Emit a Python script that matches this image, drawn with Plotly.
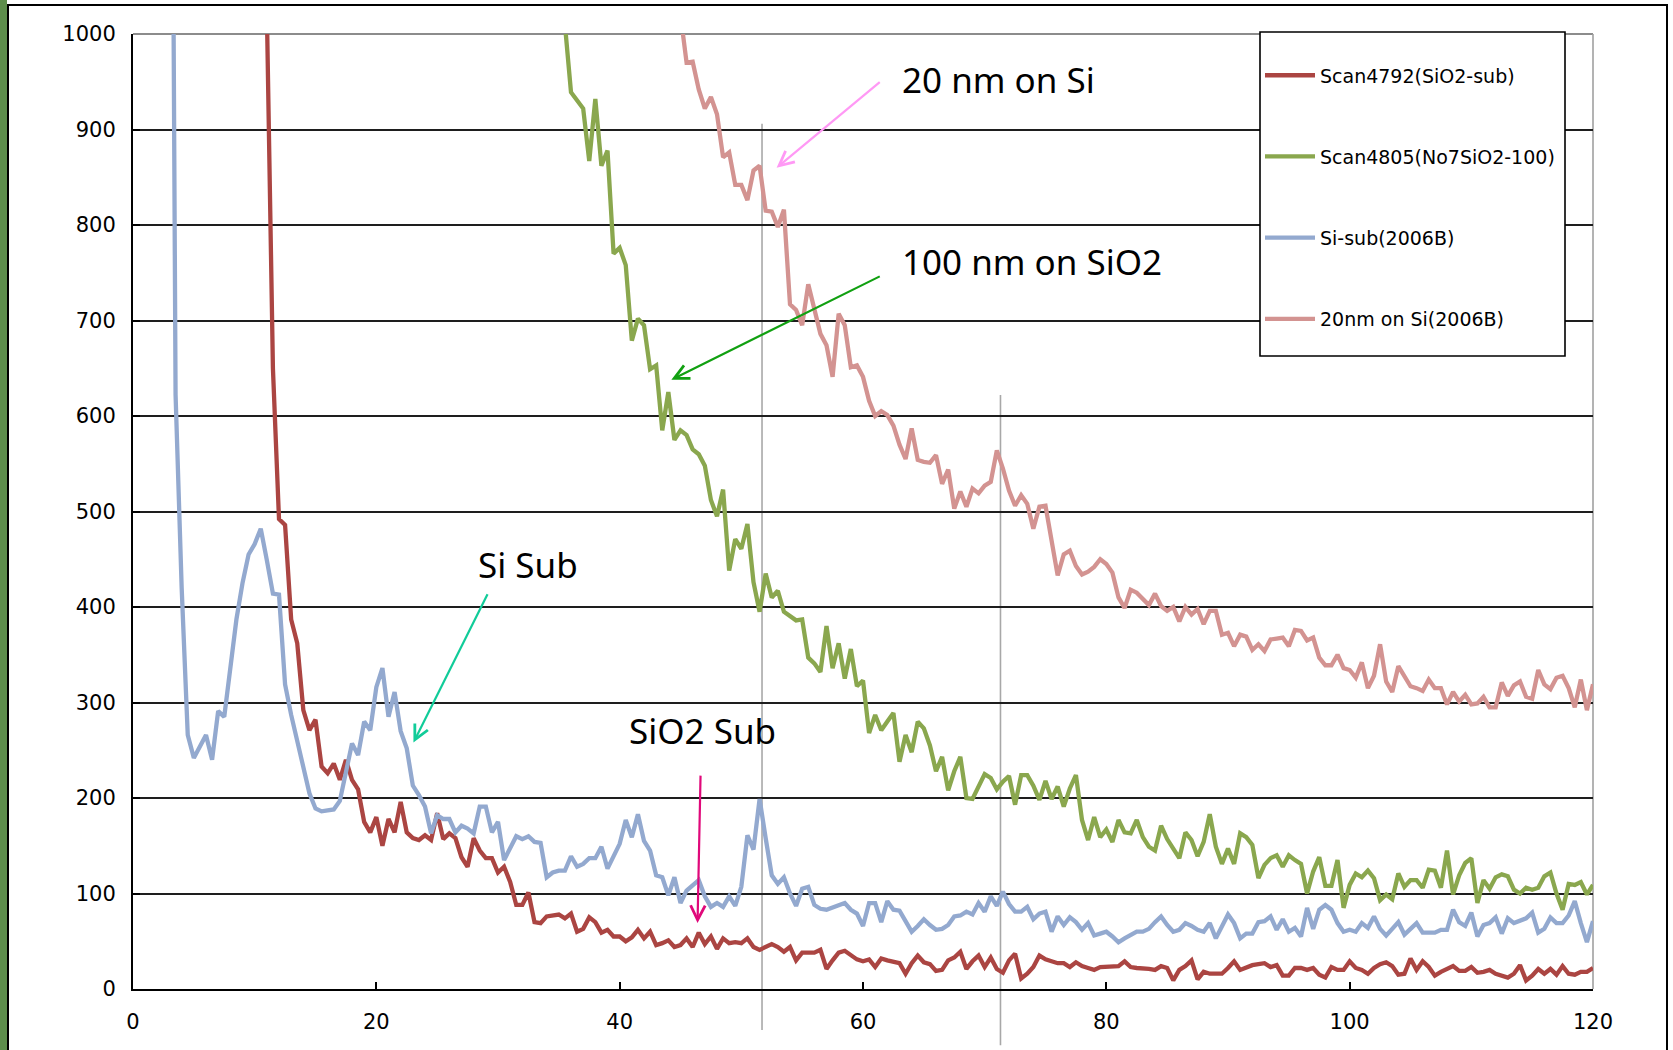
import numpy as np
import plotly.graph_objects as go

STEP = 0.5  # scan step along x

# Scan4792(SiO2-sub) -- first point at x = 10.5
red_start = 10.5
red_y = [
    1400, 1030, 650, 492, 486, 387, 362, 292, 271, 282, 233, 226, 236, 219, 240, 219, 209, 175, 164, 180,
    150, 178, 164, 196, 164, 158, 156, 161, 156, 184, 157, 163, 158, 138, 128, 158, 145, 137, 137, 122,
    128, 112, 88, 88, 101, 70, 69, 76, 77, 78, 74, 79, 60, 63, 75, 70, 59, 62, 55, 55,
    50, 54, 62, 53, 60, 46, 48, 51, 44, 46, 53, 44, 59, 47, 55, 42, 53, 48, 49, 48,
    53, 44, 41, 44, 47, 44, 39, 44, 30, 38, 38, 38, 41, 21, 30, 38, 40, 35, 31, 29,
    31, 23, 32, 30, 28, 27, 16, 27, 35, 28, 26, 19, 20, 30, 33, 39, 21, 29, 35, 23,
    33, 21, 17, 30, 37, 11, 16, 23, 35, 31, 29, 27, 27, 23, 28, 24, 22, 20, 23, 23,
    23, 24, 29, 23, 22, 22, 21, 20, 24, 22, 9, 20, 24, 30, 10, 18, 16, 16, 16, 22,
    29, 20, 23, 25, 26, 27, 23, 25, 14, 14, 22, 22, 20, 22, 15, 12, 23, 20, 20, 29,
    22, 20, 16, 22, 26, 28, 24, 15, 16, 32, 20, 29, 23, 14, 18, 21, 24, 19, 19, 23,
    17, 18, 20, 16, 14, 12, 16, 25, 9, 14, 21, 16, 21, 15, 24, 16, 15, 18, 18, 22,
]

# Scan4805(No7SiO2-100) -- first point at x = 35.0
green_start = 35.0
green_y = [
    1200, 1010, 939, 930, 922, 867, 932, 862, 878, 770, 776,
    758, 679, 702, 695, 649, 653, 585, 625, 575, 585, 580, 565, 560, 548, 512, 495, 523, 438, 471, 461,
    487, 426, 395, 435, 410, 417, 395, 390, 386, 387, 347, 341, 332, 380, 336, 362, 325, 356, 317, 323,
    268, 287, 271, 280, 289, 238, 266, 248, 280, 273, 255, 228, 243, 208, 228, 243, 200, 199, 211, 225,
    221, 209, 217, 223, 193, 224, 224, 213, 198, 218, 199, 212, 191, 210, 224, 177, 156, 180, 159, 167,
    154, 177, 164, 163, 177, 159, 149, 145, 171, 157, 147, 137, 164, 156, 139, 154, 183, 149, 131, 147,
    131, 163, 159, 151, 116, 130, 137, 140, 128, 140, 135, 131, 100, 123, 138, 108, 108, 135, 85, 109,
    121, 117, 124, 116, 93, 99, 94, 121, 107, 114, 114, 106, 125, 124, 106, 145, 99, 119, 132, 137,
    90, 114, 105, 117, 120, 118, 104, 100, 106, 104, 106, 118, 122, 100, 83, 110, 109, 112, 99, 109,
]

# Si-sub(2006B) -- first point at x = 3.0
blue_start = 3.0
blue_y = [
    1800, 622, 420, 266, 242, 255, 266, 240, 291, 285, 338, 387, 425, 455, 466,
    482, 449, 414, 413, 319, 287, 259, 231, 205, 189, 186, 187, 188, 197, 225, 257, 245, 280, 271, 316,
    336, 285, 311, 270, 252, 213, 203, 191, 163, 182, 178, 178, 164, 171, 168, 163, 191, 191, 164, 175,
    135, 148, 160, 157, 160, 154, 153, 117, 122, 124, 124, 139, 128, 131, 137, 137, 149, 126, 138, 152,
    177, 159, 183, 155, 145, 119, 117, 98, 117, 90, 103, 108, 114, 97, 86, 90, 86, 97, 87, 107,
    161, 146, 199, 158, 119, 110, 117, 100, 87, 105, 107, 88, 84, 83, 85, 88, 90, 83, 79, 66,
    90, 90, 70, 92, 83, 82, 72, 60, 66, 73, 67, 62, 63, 67, 76, 77, 81, 78, 90, 81,
    97, 87, 102, 89, 81, 81, 86, 73, 79, 81, 60, 76, 67, 75, 70, 62, 69, 56, 58, 60,
    55, 49, 53, 56, 60, 60, 63, 70, 76, 67, 60, 62, 69, 66, 62, 60, 69, 53, 65, 78,
    69, 53, 58, 58, 70, 71, 76, 62, 73, 60, 64, 55, 85, 63, 83, 88, 83, 69, 60, 62,
    60, 69, 64, 76, 63, 56, 63, 70, 57, 63, 69, 59, 59, 59, 62, 62, 83, 70, 66, 80,
    55, 67, 69, 75, 58, 74, 69, 72, 74, 80, 59, 63, 75, 69, 69, 77, 92, 69, 49, 71,
]

# 20nm on Si(2006B) -- first point at x = 44.5
pink_start = 44.5
pink_y = [
    1100, 1020, 970, 971, 942, 922, 934, 916, 871, 876, 842, 842,
    826, 857, 862, 815, 814, 798, 816, 717, 711, 695, 738, 711, 686, 674, 641, 707, 695, 651, 653, 641,
    616, 600, 605, 601, 590, 570, 555, 587, 554, 552, 551, 559, 529, 544, 503, 521, 505, 524, 519, 527,
    531, 564, 545, 522, 506, 517, 508, 482, 505, 506, 471, 433, 455, 459, 443, 434, 437, 442, 450, 445,
    436, 410, 399, 418, 415, 408, 402, 414, 401, 396, 400, 385, 400, 392, 398, 382, 396, 396, 371, 373,
    359, 371, 369, 355, 361, 354, 366, 367, 368, 359, 376, 375, 365, 368, 347, 339, 339, 350, 336, 334,
    326, 342, 315, 328, 361, 322, 311, 338, 327, 317, 315, 312, 324, 315, 315, 298, 311, 301, 308, 298,
    299, 306, 295, 295, 321, 307, 318, 322, 306, 304, 334, 319, 314, 326, 328, 315, 295, 324, 292, 319,
]

series = [
    ("Scan4792(SiO2-sub)", red_start, red_y, "#AB4542"),
    ("Scan4805(No7SiO2-100)", green_start, green_y, "#8AA74E"),
    ("Si-sub(2006B)", blue_start, blue_y, "#93A9CF"),
    ("20nm on Si(2006B)", pink_start, pink_y, "#D39391"),
]

# callout texts (x, y of left-middle, data units)
labels = ["20 nm on Si", "100 nm on SiO2", "Si Sub", "SiO2 Sub"]
label_x = [63.0, 63.0, 28.2, 40.6]
label_y = [952, 762, 444, 271]

# arrows: head (x, y) and tail (x, y) in data units
arrow_head_x = [52.9, 44.25, 23.05, 46.4]
arrow_head_y = [860, 638, 258, 69]
arrow_tail_x = [61.5, 61.5, 29.2, 46.65]
arrow_tail_y = [951, 747, 415, 225]
arrow_colors = ["#FF99F5", "#11A011", "#11CC99", "#E0087A"]

# thin grey marker lines: x, top and bottom (data units, bottom below the axis)
vline_x = [51.7, 71.3]
vline_top = [906, 622]
vline_bottom = [-43, -59]

W, H = 1673, 1050
M_L, M_R, M_T, M_B = 133, 80, 34, 61
PW, PH = W - M_L - M_R, H - M_T - M_B


def px_x(p):
    return (p - M_L) / PW


def px_y(p):
    return (H - M_B - p) / PH


fig = go.Figure()

for name, start, ys, color in series:
    xs = start + STEP * np.arange(len(ys))
    fig.add_trace(go.Scatter(
        x=xs, y=ys, mode="lines", name=name, legendgroup=name,
        line=dict(color=color, width=4.3),
    ))

for t, x, y in zip(labels, label_x, label_y):
    fig.add_annotation(
        x=x, y=y, text=t, showarrow=False, xanchor="left", yanchor="middle",
        font=dict(family="Noto Sans", size=35, color="black"),
    )

for hx, hy, tx, ty, c in zip(arrow_head_x, arrow_head_y, arrow_tail_x, arrow_tail_y, arrow_colors):
    fig.add_annotation(
        x=hx, y=hy, ax=tx, ay=ty, xref="x", yref="y", axref="x", ayref="y",
        text="", showarrow=True, arrowhead=5, arrowsize=1.3, arrowwidth=2.2,
        arrowcolor=c, standoff=0,
    )

shapes = []
for vx, vt, vb in zip(vline_x, vline_top, vline_bottom):
    shapes.append(dict(type="line", xref="x", yref="paper", x0=vx, x1=vx,
                       y0=vb / 1000, y1=vt / 1000, layer="below",
                       line=dict(color="#A8A8A8", width=1.6)))
# grey top and right edges of the plot area
shapes.append(dict(type="line", xref="paper", yref="paper", x0=0, x1=1, y0=1, y1=1,
                   line=dict(color="#8C8C8C", width=2), layer="below"))
shapes.append(dict(type="line", xref="paper", yref="paper", x0=1, x1=1, y0=0, y1=1,
                   line=dict(color="#A0A0A0", width=1.6), layer="below"))
# outer chart frame and the background strip at the left edge
shapes.append(dict(type="rect", xref="paper", yref="paper",
                   x0=px_x(0), x1=px_x(7), y0=px_y(H), y1=px_y(0),
                   fillcolor="#5E8E4C", line=dict(width=0), layer="below"))
shapes.append(dict(type="rect", xref="paper", yref="paper",
                   x0=px_x(8), x1=px_x(1667), y0=px_y(H + 20), y1=px_y(5),
                   fillcolor="rgba(0,0,0,0)", line=dict(color="black", width=2), layer="below"))
# legend box (the legend itself is drawn transparent on top of it)
shapes.append(dict(type="rect", xref="paper", yref="paper",
                   x0=px_x(1260), x1=px_x(1565), y0=px_y(356), y1=px_y(32),
                   fillcolor="white", line=dict(color="black", width=1.6), layer="above"))

tick_font = dict(family="DejaVu Sans", size=21, color="black")

fig.update_layout(
    width=W, height=H,
    margin=dict(l=M_L, r=M_R, t=M_T, b=M_B),
    paper_bgcolor="white", plot_bgcolor="white",
    shapes=shapes,
    showlegend=True,
    legend=dict(
        x=px_x(1260), y=px_y(33), xanchor="left", yanchor="top",
        bgcolor="rgba(0,0,0,0)", borderwidth=0,
        font=dict(family="DejaVu Sans", size=19, color="black"),
        traceorder="grouped", tracegroupgap=53.5, itemwidth=50,
        title=dict(text=" ", font=dict(size=18)),
    ),
    xaxis=dict(
        range=[0, 120], tick0=0, dtick=20, showgrid=False, zeroline=False,
        showline=True, linecolor="black", linewidth=2,
        ticks="inside", ticklen=7, tickwidth=2, tickcolor="black",
        tickfont=tick_font, ticklabelstandoff=13,
    ),
    yaxis=dict(
        range=[0, 1000], tick0=0, dtick=100, showgrid=True, gridcolor="#1E1E1E",
        gridwidth=2, zeroline=False,
        showline=True, linecolor="black", linewidth=2,
        ticks="inside", ticklen=7, tickwidth=2, tickcolor="black",
        tickfont=tick_font, ticklabelstandoff=11,
    ),
)

fig.write_html(
    "out.html",
    config={"displayModeBar": False},
    post_script="document.body.style.margin='0';document.body.style.overflow='hidden';",
)
